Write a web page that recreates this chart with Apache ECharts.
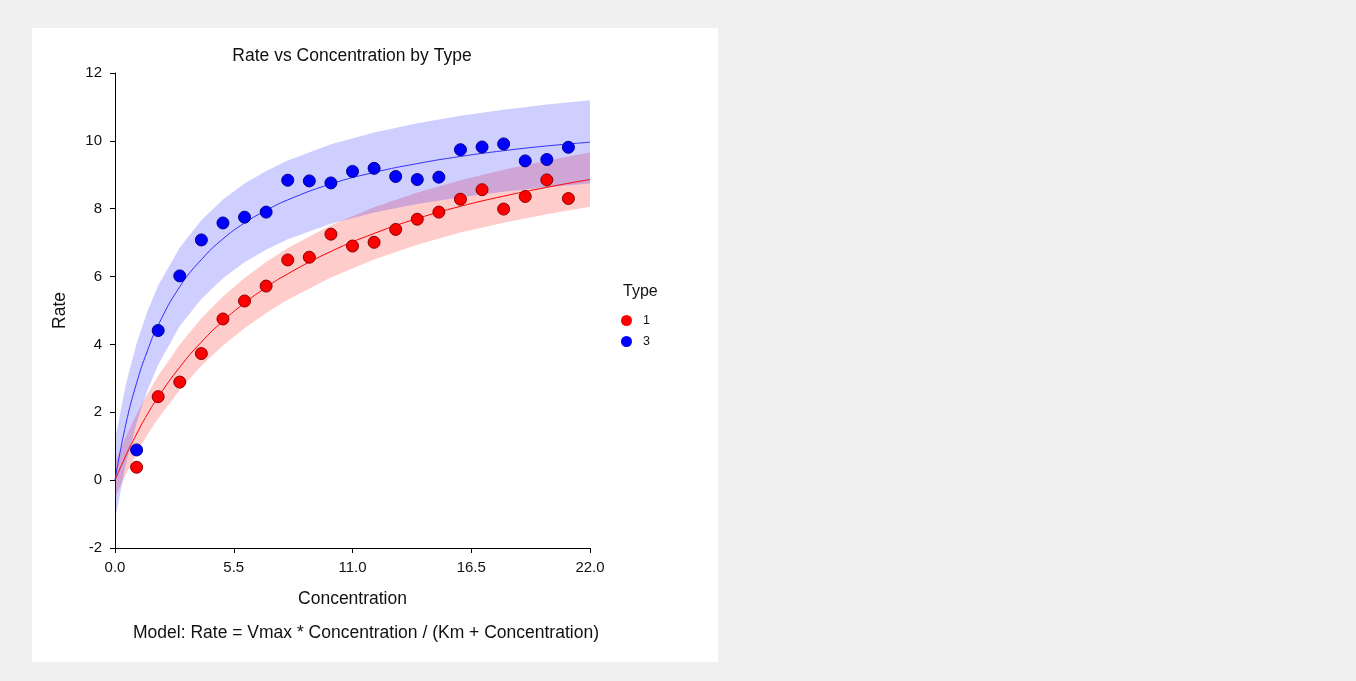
<!DOCTYPE html>
<html>
<head>
<meta charset="utf-8">
<script src="https://cdn.jsdelivr.net/npm/echarts@6/dist/echarts.min.js"></script>
<style>
  html, body { margin: 0; padding: 0; background: #f0f0f0; }
  #chart { position: absolute; left: 32px; top: 28px; width: 686px; height: 634px; }
</style>
</head>
<body>
<div id="chart"></div>
<script>
// Observed rates at each concentration, one array per type
const concentration = [1, 2, 3, 4, 5, 6, 7, 8, 9, 10, 11, 12, 13, 14, 15, 16, 17, 18, 19, 20, 21];
const rateType1 = [0.38, 2.46, 2.89, 3.73, 4.75, 5.28, 5.72, 6.49, 6.57, 7.25, 6.90, 7.01, 7.39, 7.69, 7.90, 8.28, 8.56, 7.99, 8.36, 8.85, 8.30];
const rateType3 = [0.89, 4.41, 6.02, 7.08, 7.58, 7.75, 7.90, 8.84, 8.82, 8.76, 9.10, 9.19, 8.95, 8.86, 8.93, 9.74, 9.82, 9.91, 9.41, 9.45, 9.81];

// Fitted Michaelis-Menten curves and their bands, sampled along the concentration axis
const fitX = [0, 0.5, 1, 1.5, 2, 3, 4, 5, 6, 7, 8, 10, 12, 14, 16, 18, 20, 22];
const fitType1 = [0, 0.72, 1.36, 1.94, 2.45, 3.33, 4.07, 4.69, 5.22, 5.68, 6.08, 6.74, 7.27, 7.71, 8.07, 8.37, 8.63, 8.86];
const upperType1 = [0.52, 1.27, 1.94, 2.54, 3.08, 4.00, 4.77, 5.41, 5.96, 6.43, 6.84, 7.51, 8.04, 8.48, 8.84, 9.15, 9.42, 9.66];
const lowerType1 = [-0.52, 0.17, 0.78, 1.34, 1.82, 2.66, 3.37, 3.97, 4.48, 4.93, 5.32, 5.97, 6.50, 6.94, 7.30, 7.59, 7.84, 8.06];
const fitType3 = [0, 1.64, 2.86, 3.81, 4.57, 5.70, 6.50, 7.11, 7.58, 7.95, 8.26, 8.73, 9.07, 9.33, 9.54, 9.71, 9.85, 9.96];
const upperType3 = [1.18, 2.82, 4.03, 4.98, 5.74, 6.86, 7.66, 8.27, 8.74, 9.11, 9.42, 9.90, 10.25, 10.52, 10.74, 10.92, 11.07, 11.20];
const lowerType3 = [-1.18, 0.46, 1.69, 2.64, 3.40, 4.54, 5.34, 5.95, 6.42, 6.79, 7.10, 7.56, 7.89, 8.14, 8.34, 8.50, 8.63, 8.74];

// Axis ticks
const xTicks = [0, 5.5, 11, 16.5, 22];
const yTicks = [-2, 0, 2, 4, 6, 8, 10, 12];

const FONT = 'Arial, "Liberation Sans", sans-serif';
const TEXT = '#111';

function pairs(xs, ys) { return xs.map((x, i) => [x, ys[i]]); }

function bandSeries(name, upper, lower, fill) {
  return {
    name: name,
    type: 'custom',
    silent: true,
    clip: true,
    z: 1,
    data: [[0, 0]],
    renderItem: function (params, api) {
      const pts = [];
      for (let i = 0; i < fitX.length; i++) pts.push(api.coord([fitX[i], upper[i]]));
      for (let i = fitX.length - 1; i >= 0; i--) pts.push(api.coord([fitX[i], lower[i]]));
      return { type: 'polygon', shape: { points: pts }, style: { fill: fill, stroke: null } };
    }
  };
}

const chart = echarts.init(document.getElementById('chart'));
chart.setOption({
  backgroundColor: '#ffffff',
  animation: false,
  title: {
    text: 'Rate vs Concentration by Type',
    left: 320, textAlign: 'center', top: 19, padding: 0,
    textStyle: { fontFamily: FONT, fontSize: 17.5, fontWeight: 'normal', color: TEXT }
  },
  grid: { left: 83, top: 45, width: 475, height: 475, containLabel: false },
  xAxis: {
    type: 'value', min: 0, max: 22, interval: 5.5,
    name: 'Concentration', nameLocation: 'middle', nameGap: 42,
    nameTextStyle: { fontFamily: FONT, fontSize: 17.5, color: TEXT },
    axisLine: { show: true, onZero: false, lineStyle: { color: '#000', width: 1 } },
    axisTick: { show: true, length: 5, lineStyle: { color: '#000' } },
    axisLabel: { fontFamily: FONT, fontSize: 15, color: TEXT, margin: 12,
      formatter: v => xTicks.some(t => Math.abs(t - v) < 1e-9) ? v.toFixed(1) : '' },
    splitLine: { show: false }
  },
  yAxis: {
    type: 'value', min: -2, max: 12, interval: 2,
    name: 'Rate', nameLocation: 'middle', nameGap: 46, nameRotate: 90,
    nameTextStyle: { fontFamily: FONT, fontSize: 17.5, color: TEXT },
    axisLine: { show: true, onZero: false, lineStyle: { color: '#000', width: 1 } },
    axisTick: { show: true, length: 5, lineStyle: { color: '#000' } },
    axisLabel: { fontFamily: FONT, fontSize: 15, color: TEXT, margin: 13,
      formatter: v => yTicks.includes(v) ? String(v) : '' },
    splitLine: { show: false }
  },
  legend: {
    data: ['1', '3'],
    orient: 'vertical',
    left: 589, top: 286,
    padding: 0,
    itemWidth: 11, itemHeight: 11, itemGap: 8,
    icon: 'circle',
    itemStyle: { borderWidth: 0 },
    textStyle: { fontFamily: FONT, fontSize: 12.5, color: TEXT, padding: [0, 0, 0, 6] },
    selectedMode: false
  },
  graphic: [
    { type: 'text', left: 591, top: 256,
      style: { text: 'Type', font: '16px ' + FONT, fill: TEXT } },
    { type: 'text', x: 334, y: 605,
      style: { text: 'Model: Rate = Vmax * Concentration / (Km + Concentration)',
        font: '17.5px ' + FONT, fill: TEXT, align: 'center', verticalAlign: 'middle' } }
  ],
  series: [
    bandSeries('band1', upperType1, lowerType1, 'rgba(255, 0, 0, 0.2)'),
    bandSeries('band3', upperType3, lowerType3, 'rgba(0, 0, 255, 0.19)'),
    {
      name: 'fit1', type: 'line', data: pairs(fitX, fitType1), smooth: true,
      showSymbol: false, silent: true, z: 3,
      lineStyle: { color: '#ff0000', width: 1 }
    },
    {
      name: 'fit3', type: 'line', data: pairs(fitX, fitType3), smooth: true,
      showSymbol: false, silent: true, z: 3,
      lineStyle: { color: '#3030ff', width: 1 }
    },
    {
      name: '1', type: 'scatter', data: pairs(concentration, rateType1), z: 5,
      symbol: 'circle', symbolSize: 12,
      itemStyle: { color: '#ff0000', borderColor: '#8b0000', borderWidth: 1, opacity: 1 }
    },
    {
      name: '3', type: 'scatter', data: pairs(concentration, rateType3), z: 5,
      symbol: 'circle', symbolSize: 12,
      itemStyle: { color: '#0000ff', borderColor: '#00008b', borderWidth: 1, opacity: 1 }
    }
  ]
});
</script>
</body>
</html>
